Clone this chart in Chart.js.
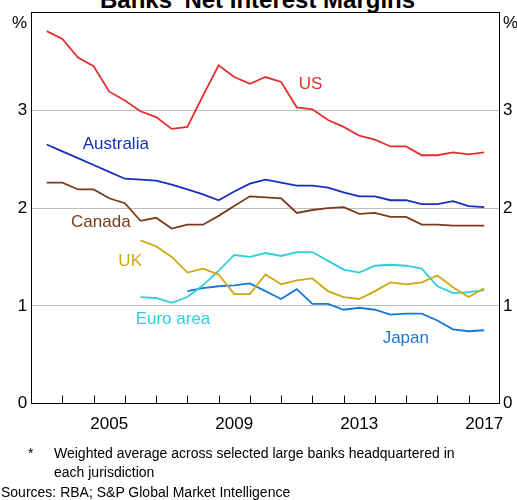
<!DOCTYPE html>
<html>
<head>
<meta charset="utf-8">
<script src="https://cdn.jsdelivr.net/npm/chart.js@4.4.0/dist/chart.umd.min.js"></script>
<style>
    html, body { margin: 0; padding: 0; background: #fff; overflow: hidden; }
    body { width: 517px; height: 500px; position: relative; font-family: "Liberation Sans", Arial, sans-serif; color: #000; }
    #title { position: absolute; left: 100px; top: -18px; font-weight: bold; font-size: 24px; line-height: 24px; white-space: nowrap; }
    #title sup { font-size: 16px; }
    #wrap { position: absolute; left: 0; top: 0; width: 521px; height: 446px; }
    .note { position: absolute; font-size: 14px; line-height: 20px; white-space: nowrap; }
</style>
</head>
<body>
<div id="title">Banks' Net Interest Margins<sup>*</sup></div>
<div id="wrap"><canvas id="nimChart"></canvas></div>
<div class="note" style="left:28px; top:443px;">*</div>
<div class="note" style="left:54px; top:443px;">Weighted average across selected large banks headquartered in</div>
<div class="note" style="left:54px; top:462px;">each jurisdiction</div>
<div class="note" style="left:1px; top:482px;">Sources: RBA; S&amp;P Global Market Intelligence</div>
<script>
// ===== 半年度数据（%） =====
const periods = [2003.5, 2004, 2004.5, 2005, 2005.5, 2006, 2006.5, 2007, 2007.5, 2008,
    2008.5, 2009, 2009.5, 2010, 2010.5, 2011, 2011.5, 2012, 2012.5, 2013,
    2013.5, 2014, 2014.5, 2015, 2015.5, 2016, 2016.5, 2017, 2017.5];

const usNim = [3.81, 3.73, 3.54, 3.45, 3.19, 3.10, 2.99, 2.93, 2.81, 2.83,
    3.15, 3.46, 3.34, 3.27, 3.34, 3.29, 3.03, 3.01, 2.90, 2.83,
    2.74, 2.70, 2.63, 2.63, 2.54, 2.54, 2.57, 2.55, 2.57];
const australiaNim = [2.65, 2.58, 2.51, 2.44, 2.37, 2.30, 2.29, 2.28, 2.24, 2.19,
    2.14, 2.08, 2.17, 2.25, 2.29, 2.26, 2.23, 2.23, 2.21, 2.16,
    2.12, 2.12, 2.08, 2.08, 2.04, 2.04, 2.07, 2.02, 2.01];
const canadaNim = [2.26, 2.26, 2.19, 2.19, 2.10, 2.05, 1.87, 1.90, 1.79, 1.83,
    1.83, 1.92, 2.02, 2.12, 2.11, 2.10, 1.95, 1.98, 2.00, 2.01,
    1.94, 1.95, 1.91, 1.91, 1.83, 1.83, 1.82, 1.82, 1.82];
const ukNim = [null, null, null, null, null, null, 1.67, 1.61, 1.50, 1.34,
    1.38, 1.32, 1.12, 1.12, 1.32, 1.22, 1.26, 1.28, 1.15, 1.09,
    1.07, 1.15, 1.24, 1.22, 1.24, 1.31, 1.19, 1.09, 1.18];
const euroNim = [null, null, null, null, null, null, 1.09, 1.08, 1.03, 1.09,
    1.21, 1.36, 1.52, 1.50, 1.54, 1.51, 1.55, 1.55, 1.46, 1.37,
    1.34, 1.41, 1.42, 1.41, 1.38, 1.20, 1.13, 1.14, 1.16];
const japanNim = [null, null, null, null, null, null, null, null, null, 1.15,
    1.18, 1.20, 1.21, 1.23, 1.15, 1.07, 1.17, 1.02, 1.02, 0.96,
    0.98, 0.96, 0.91, 0.92, 0.92, 0.85, 0.76, 0.74, 0.75];

const yearLabels = [2005, 2009, 2013, 2017];
const yTicks = [0, 1, 2, 3];

// 系列名称与颜色
const seriesNames = ['US', 'Australia', 'Canada', 'UK', 'Euro area', 'Japan'];
const seriesValues = [usNim, australiaNim, canadaNim, ukNim, euroNim, japanNim];
const seriesColors = ['#e3302c', '#1430bd', '#7a3a1c', '#cfa80e', '#2ccfdc', '#1877d8'];

// 图中文字标注的位置（数据坐标）
const labelSpots = [
    { x: 2011.94, y: 3.27 },
    { x: 2005.71, y: 2.65 },
    { x: 2005.23, y: 1.85 },
    { x: 2006.17, y: 1.46 },
    { x: 2007.54, y: 0.86 },
    { x: 2014.99, y: 0.665 }
];

const FONT = '"Liberation Sans", Arial, sans-serif';

function toPoints(values) {
    return periods.map((p, i) => ({ x: p, y: values[i] })).filter(pt => pt.y != null);
}

const datasets = seriesNames.map((name, i) => ({
    label: name,
    data: toPoints(seriesValues[i]),
    borderColor: seriesColors[i],
    backgroundColor: seriesColors[i],
    borderWidth: 1.8,
    pointRadius: 0,
    tension: 0,
    yAxisID: 'y'
}));

// 底部刻度线（朝内）+ 系列名称
const decorPlugin = {
    id: 'decor',
    afterDatasetsDraw(chart) {
        const { ctx, chartArea, scales } = chart;
        ctx.save();
        ctx.strokeStyle = '#000';
        ctx.lineWidth = 1;
        for (let yr = 2004; yr <= 2017; yr++) {
            const px = Math.round(scales.x.getPixelForValue(yr)) + 0.5;
            ctx.beginPath();
            ctx.moveTo(px, chartArea.bottom);
            ctx.lineTo(px, chartArea.bottom - 8);
            ctx.stroke();
        }
        ctx.font = '17px ' + FONT;
        ctx.textAlign = 'center';
        ctx.textBaseline = 'middle';
        labelSpots.forEach((spot, i) => {
            ctx.fillStyle = seriesColors[i];
            ctx.fillText(seriesNames[i], scales.x.getPixelForValue(spot.x), scales.y.getPixelForValue(spot.y));
        });
        ctx.restore();
    }
};

function yAxis(position) {
    return {
        type: 'linear',
        position: position,
        min: 0,
        max: 4,
        afterBuildTicks: axis => {
            axis.ticks = [...yTicks, 3.89].map(v => ({ value: v }));
        },
        ticks: {
            color: '#000',
            padding: position === 'left' ? 4 : 3,
            font: { size: 17, family: FONT, lineHeight: 1 },
            callback: v => v > 3.5 ? '%' : String(v)
        },
        grid: {
            display: position === 'left',
            drawTicks: false,
            lineWidth: 1,
            color: ctx => {
                const v = ctx.tick ? ctx.tick.value : 0;
                return (v >= 1 && v <= 3) ? '#bdbdbd' : 'rgba(0,0,0,0)';
            }
        },
        border: { display: true, color: '#000', width: 1 }
    };
}

new Chart(document.getElementById('nimChart').getContext('2d'), {
    type: 'line',
    data: { datasets: datasets },
    options: {
        responsive: true,
        maintainAspectRatio: false,
        animation: false,
        layout: { padding: { left: 8, right: 0, top: 5, bottom: 0 } },
        plugins: {
            legend: { display: false },
            tooltip: { enabled: false }
        },
        scales: {
            x: {
                type: 'linear',
                min: 2003,
                max: 2018,
                afterBuildTicks: axis => {
                    axis.ticks = yearLabels.map(y => ({ value: y + 0.5 }));
                },
                ticks: {
                    color: '#000',
                    padding: 11,
                    maxRotation: 0,
                    font: { size: 17, family: FONT },
                    callback: v => String(Math.floor(v))
                },
                grid: { display: false, drawTicks: false },
                border: { display: true, color: '#000', width: 1 }
            },
            xTop: {
                type: 'linear',
                position: 'top',
                min: 2003,
                max: 2018,
                ticks: { display: false },
                grid: { display: false, drawTicks: false },
                border: { display: true, color: '#000', width: 1 }
            },
            y: yAxis('left'),
            y2: yAxis('right')
        }
    },
    plugins: [decorPlugin]
});
</script>
</body>
</html>
